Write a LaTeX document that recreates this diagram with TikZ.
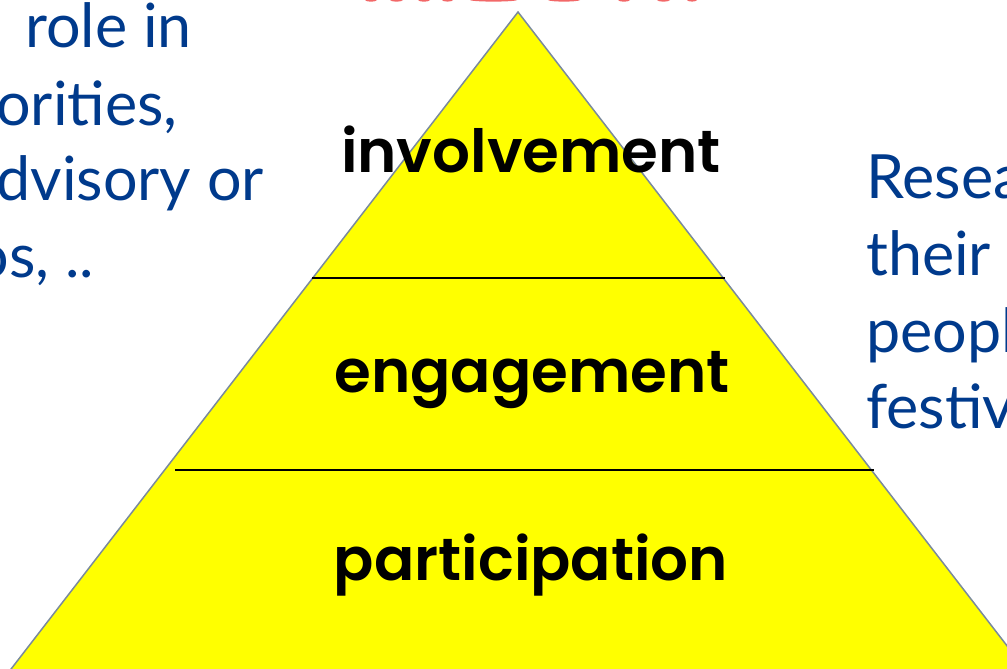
\documentclass[tikz,border=0pt]{standalone}
\usepackage{fontspec}
\newfontfamily\bodyfont{Lato}
\newfontfamily\tierfont{Poppins}[UprightFont=* Medium, BoldFont=* SemiBold]
\definecolor{slideblue}{HTML}{003A8C}
\definecolor{edgegray}{HTML}{7A8A9C}
\definecolor{titlered}{HTML}{F26868}
\definecolor{tierfill}{HTML}{FFFF00}
\begin{document}
\begin{tikzpicture}[x=1pt,y=-1pt,
  tierlabel/.style={inner sep=0pt, font=\tierfont\bfseries\fontsize{59.5}{62}\selectfont, text=black},
  sidetext/.style={inner sep=0pt, font=\bodyfont\fontsize{61}{70}\selectfont, text=slideblue},
  divider/.style={draw=black, line width=2pt},
  titlemark/.style={fill=titlered, draw=none}]
\useasboundingbox (0,0) rectangle (1007,669);
\clip (0,0) rectangle (1007,669);

% pyramid outline
\coordinate (apex) at (518,12);
\coordinate (baseL) at (-90,800);
\coordinate (baseR) at (1126,800);
\filldraw[fill=tierfill, draw=edgegray, line width=1.5pt] (apex) -- (baseR) -- (baseL) -- cycle;

% tier dividers
\coordinate (d1L) at (312,278);
\coordinate (d1R) at (725,278);
\coordinate (d2L) at (175,470);
\coordinate (d2R) at (874,470);
\draw[divider] (d1L) -- (d1R);
\draw[divider] (d2L) -- (d2R);

% tier labels
\node[tierlabel, anchor=base] (involvement) at (531,172) {involvement};
\node[tierlabel, anchor=base] (engagement) at (532,392) {engagement};
\node[tierlabel, anchor=base] (participation) at (531,580) {participation};

% left column text
\node[sidetext, anchor=base east] (left1) at (192,48) {e\kern7pt\ role in};
\node[sidetext, anchor=base east] (left2) at (178,125) {orities,};
\node[sidetext, anchor=base east] (left3) at (264,200) {dvisory or};
\node[sidetext, anchor=base east] (left4) at (94,277) {os, ..};

% right column text
\node[sidetext, anchor=base west] (right1) at (866,198) {Research};
\node[sidetext, anchor=base west] (right2) at (866,275) {their};
\node[sidetext, anchor=base west] (right3) at (866,352) {people};
\node[sidetext, anchor=base west] (right4) at (866,428) {festival};

% heading strokes along the top edge
\foreach \a/\b in {365/377,390/403,418/430,442/453,470/517,548/580,618/630,657/670,687/697}
  \fill[titlemark] ({(\a+\b)/2},0) ellipse ({(\b-\a)/2} and 1.6);
\end{tikzpicture}
\end{document}
